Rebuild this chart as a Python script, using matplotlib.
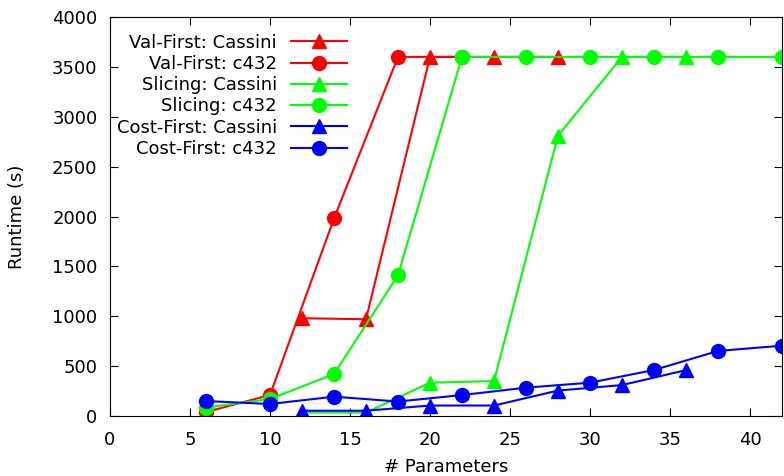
import numpy as np
import matplotlib.pyplot as plt

# runtime (s) per number of parameters
vf_cassini_x = [12, 16, 20, 24, 28]
vf_cassini_y = [980, 970, 3600, 3600, 3600]
vf_c432_x = [6, 10, 14, 18, 22]
vf_c432_y = [40, 210, 1980, 3600, 3600]
sl_cassini_x = [12, 16, 20, 24, 28, 32, 36]
sl_cassini_y = [35, 35, 334, 350, 2810, 3600, 3600]
sl_c432_x = [6, 10, 14, 18, 22, 26, 30, 34, 38, 42]
sl_c432_y = [85, 170, 420, 1410, 3600, 3600, 3600, 3600, 3600, 3600]
cf_cassini_x = [12, 16, 20, 24, 28, 32, 36]
cf_cassini_y = [53, 53, 105, 105, 255, 310, 460]
cf_c432_x = [6, 10, 14, 18, 22, 26, 30, 34, 38, 42]
cf_c432_y = [150, 120, 194, 145, 210, 284, 334, 461, 652, 705]

series = [
    ("Val-First: Cassini", vf_cassini_x, vf_cassini_y, "red", "^"),
    ("Val-First: c432", vf_c432_x, vf_c432_y, "red", "o"),
    ("Slicing: Cassini", sl_cassini_x, sl_cassini_y, "#00ff00", "^"),
    ("Slicing: c432", sl_c432_x, sl_c432_y, "#00ff00", "o"),
    ("Cost-First: Cassini", cf_cassini_x, cf_cassini_y, "blue", "^"),
    ("Cost-First: c432", cf_c432_x, cf_c432_y, "blue", "o"),
]

fig = plt.figure(figsize=(7.84, 4.76), dpi=100)
ax = fig.add_axes([110 / 784, 60 / 476, 672 / 784, 399 / 476])

for label, x, y, c, m in series:
    ms = 10 if m == "o" else 9.5
    ax.plot(x, y, color=c, marker=m, markersize=ms, linewidth=1.5, label=label)

ax.set_xlim(0, 42)
ax.set_ylim(0, 4000)
ax.set_xticks(np.arange(0, 41, 5))
ax.set_yticks(np.arange(0, 4001, 500))
ax.tick_params(direction="in", top=True, right=True, labelsize=13, length=6)
ax.tick_params(axis="x", pad=11)
ax.tick_params(axis="y", pad=9)
ax.set_xlabel("# Parameters", fontsize=13, labelpad=6)
ax.set_ylabel("Runtime (s)", fontsize=13, labelpad=19)

leg = ax.legend(loc="upper left", bbox_to_anchor=(-0.009, 0.99), frameon=False,
                markerfirst=False, fontsize=13, handlelength=3.1,
                labelspacing=0.18, borderaxespad=0.3)
for t in leg.get_texts():
    t.set_ha("right")
leg._legend_box.align = "right"

fig.savefig("out.png", dpi=100)
